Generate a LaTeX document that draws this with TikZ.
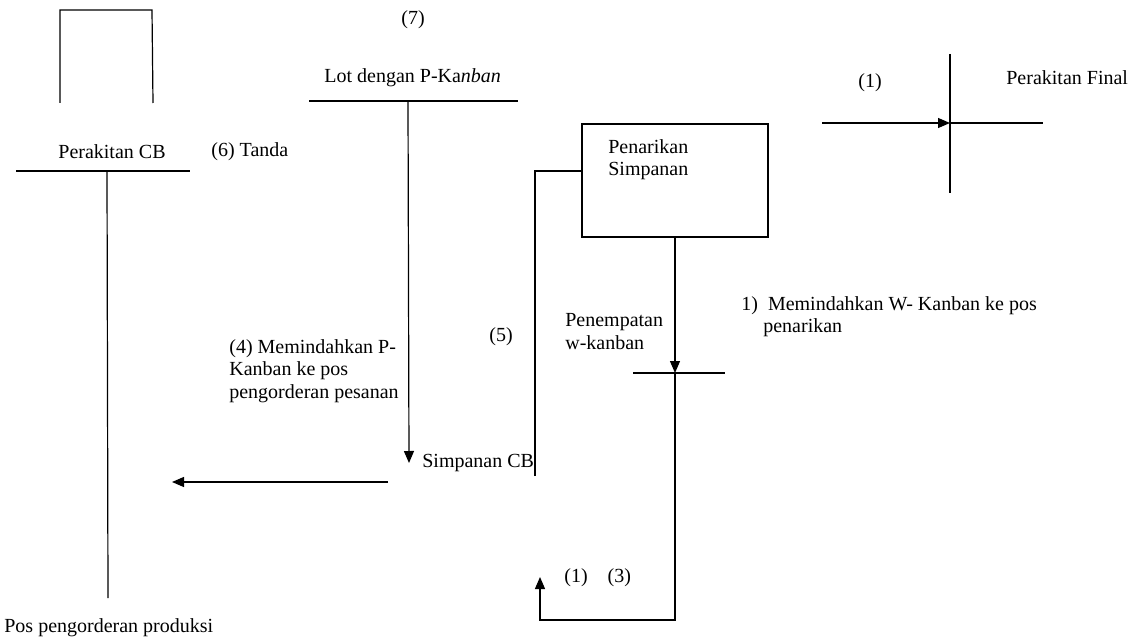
\documentclass[tikz,border=0pt]{standalone}
\usepackage{fontspec}
\setmainfont{Liberation Serif}
\usetikzlibrary{arrows.meta}

\tikzset{every picture/.style={line width=1.2pt}}
\tikzset{
  lbl/.style={anchor=west, inner sep=0.75pt, font=\fontsize{20}{22.5}\selectfont, align=left},
  flow/.style={-{Triangle[length=12pt,width=10pt]}},
}

\begin{document}
\begin{tikzpicture}[x=1pt,y=1pt,yscale=-1,xscale=1]
		\useasboundingbox (0,0) rectangle (1136,642);

		%Shape: open box
		\draw   (60,103) -- (60,10) -- (152,10) -- (153,103) ;

		% Text Node
		\node[lbl, anchor=center] (perakitanCB) at (112,152) {Perakitan CB};
		% Text Node
		\node[lbl] (tanda) at (210,152) {(6) Tanda};
		% Text Node
		\node[lbl, anchor=center] (tujuh) at (413,20) {(7)};
		% Text Node
		\node[lbl] (lotKanban) at (323,78) {Lot dengan P-Ka\textit{nban}};
		% Text Node
		\node[lbl] (pindahP) at (228,371) {(4) Memindahkan P-\\Kanban ke pos\\pengorderan pesanan};
		% Text Node
		\node[lbl] (simpananCB) at (421,463) {Simpanan CB};
		% Text Node
		\node[lbl, anchor=center] (lima) at (501,337) {(5)};
		% Text Node
		\node[lbl] (penarikanTxt) at (607,159.5) {Penarikan\\Simpanan};
		% Text Node
		\node[lbl] (penempatan) at (564,331.5) {Penempatan\\w-kanban};
		% Text Node
		\node[lbl] (pindahW) at (740,316.5) {1)~~Memindahkan W- Kanban ke pos\\\hspace*{22pt}penarikan};
		% Text Node
		\node[lbl] (satuTiga) at (563,578) {(1)\hspace{20pt}(3)};
		% Text Node
		\node[lbl, anchor=center] (satu) at (870,83) {(1)};
		% Text Node
		\node[lbl] (final) at (1005,78) {Perakitan Final};
		% Text Node
		\node[lbl] (posOrder) at (3,628) {Pos pengorderan produksi};

		%Shape: Rectangle
		\node[draw, minimum width=186pt, minimum height=113pt, inner sep=0pt] (penarikan) at (675,180.5) {};

		\coordinate (cbL) at (16,171);
		\coordinate (cbR) at (190,171);
		\coordinate (cbTop) at (107,171);
		\coordinate (cbBot) at (108,598);
		\coordinate (lotL) at (309,101);
		\coordinate (lotR) at (518,101);
		\coordinate (lotTop) at (408,101);
		\coordinate (lotBot) at (409,463);
		\coordinate (brBot) at (535,476);
		\coordinate (brEnd) at (582,171);
		\coordinate (wL) at (633,373);
		\coordinate (wR) at (725,373);
		\coordinate (wX) at (675,373);
		\coordinate (retCorner) at (675,620);
		\coordinate (retEnd) at (540,577);
		\coordinate (arrS) at (388,482);
		\coordinate (arrE) at (172,482);
		\coordinate (finTop) at (950,54);
		\coordinate (finBot) at (950,193);
		\coordinate (finL) at (822,123);
		\coordinate (finR) at (1043,123);
		\coordinate (finX) at (950,123);

		%Straight Lines
		\draw (cbL) -- (cbR) ;
		\draw (cbTop) -- (cbBot) ;
		%Straight Lines
		\draw (lotL) -- (lotR) ;
		\draw [flow] (lotTop) -- (lotBot) ;
		%Straight Lines
		\draw (brBot) |- (brEnd) ;
		%Straight Lines
		\draw [flow] (penarikan.south) -- (wX) ;
		\draw (wL) -- (wR) ;
		\draw [flow] (wX) -- (retCorner) -| (retEnd) ;
		%Straight Lines
		\draw [flow] (arrS) -- (arrE) ;
		%Straight Lines
		\draw (finTop) -- (finBot) ;
		\draw [flow] (finL) -- (finX) ;
		\draw (finX) -- (finR) ;
	\end{tikzpicture}
\end{document}
